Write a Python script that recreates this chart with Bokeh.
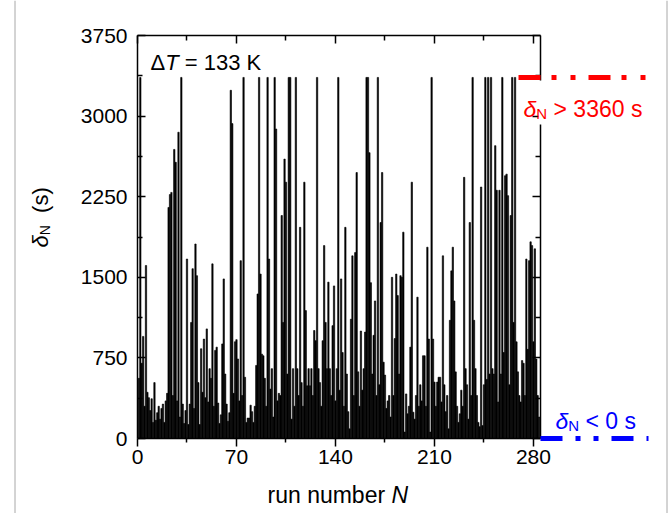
import math
from bokeh.plotting import figure
from bokeh.models import Range1d, LinearAxis, FixedTicker, Label, Arrow, Span, CustomJSTickFormatter
from bokeh.embed import file_html
from bokeh.resources import INLINE

# ---------------- data ----------------
delta_N = [
    560, 3360, 700, 950, 300, 1610, 430, 380, 260, 370,
    150, 520, 170, 240, 300, 180, 280, 320, 150, 350,
    420, 2150, 2270, 2290, 400, 2690, 2570, 350, 2850, 200,
    3360, 320, 140, 260, 1670, 130, 320, 1080, 1580, 280,
    1810, 1515, 520, 130, 835, 430, 925, 380, 1020, 340,
    650, 560, 1625, 300, 820, 850, 330, 140, 220, 880,
    1485, 600, 320, 160, 240, 3240, 2930, 420, 900, 920,
    740, 350, 1655, 400, 3360, 570, 150, 190, 190, 310,
    250, 150, 300, 680, 1345, 3360, 1530, 785, 770, 560,
    300, 3360, 1670, 460, 650, 200, 3360, 2880, 350, 420,
    400, 2075, 1080, 2600, 2385, 600, 3360, 3360, 180, 650,
    300, 3360, 650, 400, 1965, 520, 300, 2385, 1190, 490,
    650, 490, 650, 400, 1005, 910, 3360, 650, 520, 300,
    910, 1795, 1080, 650, 1455, 650, 400, 1050, 1420, 350,
    650, 3360, 450, 1485, 800, 300, 1965, 600, 250, 90,
    1110, 1700, 400, 1730, 2475, 620, 300, 1000, 450, 650,
    990, 3360, 3360, 2660, 1450, 600, 960, 1280, 400, 3360,
    500, 2010, 2475, 710, 590, 280, 350, 400, 200, 1500,
    400, 930, 1530, 1330, 600, 1515, 1500, 1920, 60, 415,
    230, 300, 850, 2385, 245, 180, 400, 1315, 300, 500,
    350, 770, 770, 300, 1780, 925, 60, 3360, 925, 525,
    300, 525, 570, 570, 340, 1700, 500, 250, 400, 90,
    1100, 1560, 1780, 1280, 620, 300, 150, 230, 450, 300,
    2430, 650, 500, 180, 2010, 400, 3360, 1100, 650, 400,
    150, 110, 2340, 120, 500, 3360, 550, 3360, 600, 3360,
    650, 600, 2725, 2310, 340, 2310, 600, 3360, 800, 2445,
    2460, 2260, 500, 2075, 3360, 1080, 3360, 900, 620, 400,
    340, 725, 700, 400, 1670, 830, 1655, 1830, 1795, 900,
    1765, 740, 400, 200,
]
run_number = list(range(1, len(delta_N) + 1))

x_ticks = [0, 70, 140, 210, 280]
x_minor_ticks = [35, 105, 175, 245]
y_ticks = [0, 750, 1500, 2250, 3000, 3750]
y_minor_ticks = [375, 1125, 1875, 2625, 3375]
x_limits = (0, 285)
y_limits = (0, 3750)
upper_cap = 3360   # delta_N > 3360 s
lower_cap = 0      # delta_N < 0 s
delta_T_text = "133 K"

# ---------------- layout ----------------
W, H = 668, 513
FL, FR, FT, FB = 137, 540, 35, 438   # plot box edges in pixels


def fx(px):
    return x_limits[0] + (px - FL) / (FR - FL) * (x_limits[1] - x_limits[0])


def fy(py):
    return y_limits[0] + (FB - py) / (FB - FT) * (y_limits[1] - y_limits[0])


# the Bokeh frame covers the whole canvas so that marks outside the box are not clipped;
# the box itself is drawn by four axes fixed at the data limits
p = figure(width=W, height=H, output_backend="svg", toolbar_location=None,
           x_range=Range1d(fx(0), fx(W)), y_range=Range1d(fy(H), fy(0)),
           x_axis_location=None, y_axis_location=None,
           min_border_left=0, min_border_right=0, min_border_top=0, min_border_bottom=0,
           background_fill_color="white", border_fill_color="white")
p.xgrid.visible = False
p.ygrid.visible = False
p.outline_line_color = None

FONT = "Liberation Sans"

p.vbar(x=run_number, top=delta_N, width=0.95, fill_color="black",
       line_color="black", line_width=0.6)

xt = FixedTicker(ticks=x_ticks, minor_ticks=x_minor_ticks)
yt = FixedTicker(ticks=y_ticks, minor_ticks=y_minor_ticks)
blank = CustomJSTickFormatter(code="return ''")

bottom_ax = LinearAxis(ticker=xt, fixed_location=y_limits[0], bounds=x_limits)
left_ax = LinearAxis(ticker=yt, fixed_location=x_limits[0], bounds=y_limits)
top_ax = LinearAxis(ticker=xt, fixed_location=y_limits[1], bounds=x_limits, formatter=blank)
right_ax = LinearAxis(ticker=yt, fixed_location=x_limits[1], bounds=y_limits, formatter=blank)
p.add_layout(bottom_ax, "below")
p.add_layout(left_ax, "left")
p.add_layout(top_ax, "above")
p.add_layout(right_ax, "right")

for ax in [bottom_ax, left_ax, top_ax, right_ax]:
    ax.axis_line_color = "black"
    ax.axis_line_width = 1.5
    ax.major_tick_line_color = "black"
    ax.major_tick_line_width = 1.5
    ax.minor_tick_line_color = "black"
    ax.minor_tick_line_width = 1.5
    ax.major_label_text_font = FONT
    ax.major_label_text_font_size = "21px"
    ax.major_label_text_color = "black"

bottom_ax.major_tick_in, bottom_ax.major_tick_out = 0, 8
bottom_ax.minor_tick_in, bottom_ax.minor_tick_out = 0, 4
bottom_ax.major_label_standoff = 3
for ax in [left_ax, top_ax, right_ax]:
    ax.major_tick_in, ax.major_tick_out = 8, 0
    ax.minor_tick_in, ax.minor_tick_out = 5, 0
left_ax.major_label_standoff = 10

# ---------------- rich text helper ----------------
CW = {' ': 0.278, '=': 0.584, '>': 0.584, '<': 0.584, 'K': 0.667, 'T': 0.611,
      'N': 0.722, 'Δ': 0.668, 'δ': 0.556, 's': 0.5, '(': 0.333, ')': 0.333,
      'r': 0.333, 'u': 0.556, 'n': 0.556, 'm': 0.833, 'b': 0.556, 'e': 0.556}


def tw(text, size):
    return sum(CW.get(c, 0.556) for c in text) * size


def rich(segments, px, py, color, angle=0.0):
    cur = 0.0
    for text, size, style, dy in segments:
        lead = len(text) - len(text.lstrip(' '))
        cur += tw(' ' * lead, size)
        t = text.strip(' ')
        if angle == 0:
            ax_, ay_ = px + cur, py + dy
        else:
            ax_, ay_ = px + dy, py - cur
        p.add_layout(Label(x=fx(ax_), y=fy(ay_), text=t, text_font=FONT,
                           text_font_size=f"{size}px", text_font_style=style,
                           text_color=color, angle=angle,
                           text_align="left", text_baseline="alphabetic"))
        cur += tw(t, size)
        trail = len(text) - len(text.rstrip(' '))
        cur += tw(' ' * trail, size)


# ---------------- cap lines (extend outside the box) ----------------
p.add_layout(Arrow(end=None, x_start=x_limits[1], y_start=fy(80), x_end=x_limits[1], y_end=fy(124),
                   line_color="white", line_width=4))
p.add_layout(Arrow(end=None, x_start=fx(518), y_start=upper_cap, x_end=fx(647), y_end=upper_cap,
                   line_color="#ff0000", line_width=5, line_dash="22 11 5 14 5 13", line_cap="butt"))
p.add_layout(Arrow(end=None, x_start=x_limits[1], y_start=lower_cap, x_end=fx(648), y_end=lower_cap,
                   line_color="#0000ff", line_width=5, line_dash="22 13 5 13 5 13", line_cap="butt"))

# page border lines
for bxp in (14.5, 666.5):
    p.add_layout(Span(location=fx(bxp), dimension="height", line_color="#a8a8a8", line_width=1))

# ---------------- texts ----------------
rich([("Δ", 22, "normal", 0), ("T", 22, "italic", 0), (" = " + delta_T_text, 22, "normal", 0)],
     150, 62, "black")
rich([("δ", 23, "italic", 0), ("N", 15, "normal", 5), (" > 3360 s", 23, "normal", 0)],
     523, 108, "#ff0000")
rich([("δ", 23, "italic", 0), ("N", 15, "normal", 5), (" < 0 s", 23, "normal", 0)],
     555, 420, "#0000ff")
rich([("run number ", 23, "normal", 0), ("N", 23, "italic", 0)], 267, 494, "black")
rich([("δ", 22, "italic", 0), ("N", 14, "normal", 4), ("  (s)", 22, "normal", 0)],
     40, 247, "black", angle=math.pi / 2)

open("out.html", "w").write(file_html(p, INLINE))
